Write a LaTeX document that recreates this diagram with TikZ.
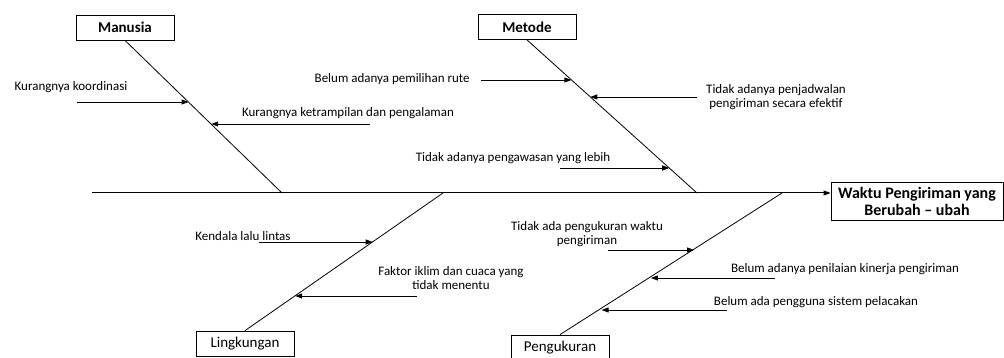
\documentclass[tikz,border=0pt]{standalone}
\usepackage{fontspec}
\setmainfont{Carlito}
\usetikzlibrary{arrows.meta}
\begin{document}
\begin{tikzpicture}[x=1pt, y=-1pt, line width=0.8pt,
        cat/.style = {draw, fill=white, minimum width=98pt, minimum height=25pt,
                      inner sep=0pt, font=\fontsize{15}{16}\selectfont},
        cause/.style = {inner sep=0pt, align=center, font=\fontsize{13}{14.5}\selectfont},
        into/.style = {-{Triangle[length=7pt, width=5pt]}}]

    \useasboundingbox (0,0) rectangle (1004,358);

    % Effect
    \node[draw, minimum width=172pt, minimum height=38pt, inner sep=0pt, align=center,
          font=\bfseries\fontsize{16}{17}\selectfont] (effect) at (917,201)
          {Waktu Pengiriman yang\\Berubah -- ubah};

    % Spine
    \coordinate (tail) at (92,193);
    \draw[into, line width=1pt] (tail) -- (effect.west |- tail);

    % Categories
    \node[cat, font=\bfseries\fontsize{15}{16}\selectfont] (manusia) at (125,27.5) {Manusia};
    \node[cat, font=\bfseries\fontsize{15}{16}\selectfont] (metode) at (527,27) {Metode};
    \node[cat] (lingkungan) at (245,343.5) {Lingkungan};
    \node[cat] (pengukuran) at (560,347.5) {Pengukuran};

    % Bone ends on the spine
    \coordinate (manusiaEnd) at (282,193);
    \coordinate (metodeEnd) at (697,193);
    \coordinate (lingkunganEnd) at (443,193);
    \coordinate (pengukuranEnd) at (782,193);

    \draw (manusia.south) -- (manusiaEnd);
    \draw (metode.south) -- (metodeEnd);
    \draw (lingkungan.north) -- (lingkunganEnd);
    \draw (pengukuran.north) -- (pengukuranEnd);

    % Manusia
    \node[cause] (m1) at (71,87) {Kurangnya koordinasi};
    \node[cause] (m2) at (348,113) {Kurangnya ketrampilan dan pengalaman};
    \coordinate (m1a) at (77,102);   \coordinate (m1b) at (188.6,102);
    \coordinate (m2a) at (370,124);  \coordinate (m2b) at (211.2,124);
    \draw[into] (m1a) -- (m1b);
    \draw[into] (m2a) -- (m2b);

    % Metode
    \node[cause, anchor=east] (t1) at (470,79) {Belum adanya pemilihan rute};
    \node[cause] (t2) at (776,97) {Tidak adanya penjadwalan\\pengiriman secara efektif};
    \node[cause] (t3) at (513,158) {Tidak adanya pengawasan yang lebih};
    \coordinate (t1a) at (481,80);   \coordinate (t1b) at (571.4,80);
    \coordinate (t2a) at (697,97);   \coordinate (t2b) at (590.3,97);
    \coordinate (t3a) at (560,168);  \coordinate (t3b) at (669.2,168);
    \draw[into] (t1a) -- (t1b);
    \draw[into] (t2a) -- (t2b);
    \draw[into] (t3a) -- (t3b);

    % Lingkungan
    \node[cause] (l1) at (243,236) {Kendala lalu lintas};
    \node[cause] (l2) at (451,278) {Faktor iklim dan cuaca yang\\tidak menentu};
    \coordinate (l1a) at (259,242);  \coordinate (l1b) at (372.7,242);
    \coordinate (l2a) at (417,296);  \coordinate (l2b) at (295.2,296);
    \draw[into] (l1a) -- (l1b);
    \draw[into] (l2a) -- (l2b);

    % Pengukuran
    \node[cause] (p1) at (587,234) {Tidak ada pengukuran waktu\\pengiriman};
    \node[cause] (p2) at (845,269) {Belum adanya penilaian kinerja pengiriman};
    \node[cause] (p3) at (816,302) {Belum ada pengguna sistem pelacakan};
    \coordinate (p1a) at (608,250);  \coordinate (p1b) at (694.1,250);
    \coordinate (p2a) at (775,278);  \coordinate (p2b) at (650.9,278);
    \coordinate (p3a) at (727,310);  \coordinate (p3b) at (601.6,310);
    \draw[into] (p1a) -- (p1b);
    \draw[into] (p2a) -- (p2b);
    \draw[into] (p3a) -- (p3b);

\end{tikzpicture}
\end{document}
